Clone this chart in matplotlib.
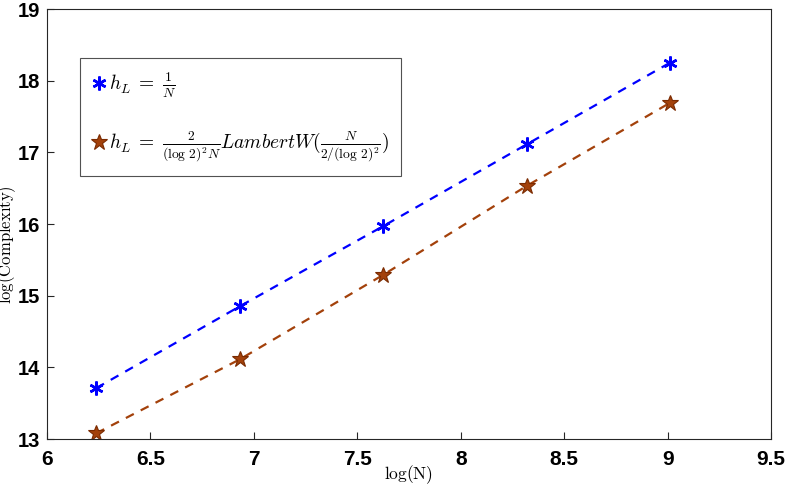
import numpy as np
import matplotlib
matplotlib.use("Agg")
import matplotlib.pyplot as plt
from matplotlib.lines import Line2D

# ================== DATA ==================
log_n = [6.238, 6.931, 7.625, 8.318, 9.011]
complexity_inv_n = [13.71, 14.85, 15.97, 17.11, 18.25]
complexity_lambert = [13.08, 14.11, 15.29, 16.53, 17.69]

label_inv_n = r"$h_L\;=\;\frac{1}{N}$"
label_lambert = (r"$h_L\;=\;\frac{2}{(\log\,2)^2N}LambertW(\frac{N}{2/(\log\,2)^2})$")

x_ticks = [6, 6.5, 7, 7.5, 8, 8.5, 9, 9.5]
y_ticks = [13, 14, 15, 16, 17, 18, 19]

BLUE = "#0000FF"
BROWN = "#A3410B"
BROWN_EDGE = "#7A2A00"
AXIS_COLOR = "#262626"

plt.rcParams["mathtext.fontset"] = "cm"
plt.rcParams["font.family"] = ["Liberation Sans Narrow", "Liberation Sans"]

fig = plt.figure(figsize=(7.9, 4.92), dpi=100)
ax = fig.add_axes([0.0595, 0.1077, 0.9165, 0.8740])

ax.plot(log_n, complexity_inv_n, linestyle="--", color=BLUE, linewidth=1.6,
        dashes=(4, 3.5), marker=(6, 2, 0), markersize=10,
        markeredgewidth=1.8, markeredgecolor=BLUE, label=label_inv_n)
ax.plot(log_n, complexity_lambert, linestyle="--", color=BROWN, linewidth=1.6,
        dashes=(4, 3.5), marker="*", markersize=12,
        markerfacecolor=BROWN, markeredgecolor=BROWN_EDGE,
        markeredgewidth=0.8, label=label_lambert)

ax.set_xlim(6, 9.5)
ax.set_ylim(13, 19)
ax.set_xticks(x_ticks)
ax.set_xticklabels([f"{t:g}" for t in x_ticks])
ax.set_yticks(y_ticks)

ax.tick_params(direction="in", length=5, width=0.8, color=AXIS_COLOR,
               labelsize=15)
ax.tick_params(axis="x", pad=8)
ax.tick_params(axis="y", pad=5, labelsize=14.5)
for lbl in ax.get_xticklabels() + ax.get_yticklabels():
    lbl.set_fontweight("bold")
for s in ax.spines.values():
    s.set_color(AXIS_COLOR)
    s.set_linewidth(0.8)

ax.set_xlabel(r"$\log(\mathrm{N})$", fontsize=12.5, labelpad=-4)
ax.set_ylabel(r"$\log(\mathrm{Complexity})$", fontsize=12)
ax.yaxis.set_label_coords(-0.040, 0.451)

handles = [
    Line2D([], [], linestyle="none", marker=(6, 2, 0), markersize=10,
           markeredgewidth=1.8, color=BLUE),
    Line2D([], [], linestyle="none", marker="*", markersize=12,
           markerfacecolor=BROWN, markeredgecolor=BROWN_EDGE,
           markeredgewidth=0.8),
]
leg = ax.legend(handles, [label_inv_n, label_lambert], loc="upper left",
                bbox_to_anchor=(0.045, 0.886), fontsize=14, frameon=True,
                fancybox=False, edgecolor=AXIS_COLOR, handlelength=0.8,
                handletextpad=0.1, labelspacing=1.55, borderpad=0.62,
                borderaxespad=0)
leg.get_frame().set_linewidth(0.8)

fig.savefig("out.png", dpi=100)
